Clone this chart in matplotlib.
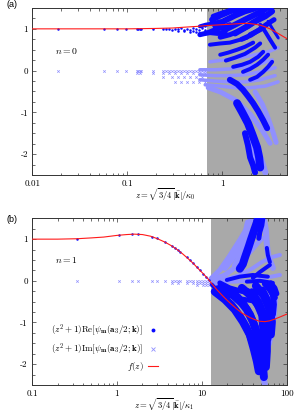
import matplotlib
matplotlib.use("Agg")
import matplotlib.pyplot as plt
from matplotlib.lines import Line2D
from matplotlib.ticker import FixedLocator, FixedFormatter, NullFormatter, MultipleLocator

plt.rcParams['mathtext.fontset'] = 'cm'
plt.rcParams['font.family'] = ['cmr10', 'DejaVu Serif']
plt.rcParams['axes.unicode_minus'] = False

# ---------------- Panel (a): n = 0 ----------------
a_f_z = [0.01, 0.03, 0.1, 0.2, 0.3, 0.4, 0.55, 0.7, 0.85, 1.0, 1.2, 1.4, 1.66, 1.9, 2.2, 2.5, 2.8, 3.17, 3.6, 4.06, 4.5, 4.83]
a_f_y = [1.00, 1.00, 1.00, 1.01, 1.02, 1.04, 1.06, 1.08, 1.09, 1.10, 1.11, 1.12, 1.13, 1.13, 1.11, 1.09, 1.05, 1.00, 0.93, 0.86, 0.80, 0.76]

a_re_pt_z = [0.0188, 0.0573, 0.0785, 0.096, 0.125, 0.130, 0.135, 0.140, 0.187, 0.238, 0.255, 0.275,
             0.296, 0.318, 0.342, 0.368, 0.395, 0.425, 0.457, 0.492, 0.529, 0.568, 0.612, 0.658,
             0.342, 0.395, 0.457, 0.492, 0.529, 0.568, 0.612, 0.658, 0.612, 0.658]
a_re_pt_y = [1.00, 1.00, 1.00, 1.00, 1.00, 1.00, 1.00, 1.00, 1.00, 1.00, 0.99, 1.00,
             0.98, 1.00, 0.99, 1.01, 0.98, 1.00, 0.97, 1.01, 0.99, 0.98, 1.02, 0.97,
             0.95, 0.94, 0.93, 0.95, 0.92, 0.90, 0.88, 0.87, 1.06, 1.08]

a_im_rows_z = [[0.0188, 0.0573, 0.0785, 0.096, 0.125, 0.130, 0.135, 0.140, 0.187, 0.238, 0.255, 0.275,
                0.296, 0.318, 0.342, 0.368, 0.395, 0.425, 0.457, 0.492, 0.529, 0.568, 0.612, 0.658],
               [0.125, 0.135, 0.187, 0.238, 0.275, 0.318, 0.368, 0.425, 0.492, 0.568, 0.658],
               [0.238, 0.296, 0.342, 0.395, 0.457, 0.529, 0.612],
               [0.318, 0.368, 0.425, 0.492, 0.568, 0.658]]
a_im_rows_y = [0.0, -0.05, -0.15, -0.27]

# dense Re bands in the shaded region (z values, y values)
a_re_band_z = [[0.58, 0.66, 0.74, 0.90, 1.07], [0.58, 0.67, 0.80, 0.95], [0.71, 0.84, 0.99, 1.20],
               [0.78, 0.95, 1.20, 1.54], [0.84, 1.07, 1.36, 1.73, 2.21], [1.07, 1.36, 1.73, 2.21, 2.83],
               [1.36, 1.73, 2.21, 2.83, 3.34], [1.96, 2.50, 3.03, 3.50], [1.5, 2.2, 2.8, 3.3],
               [0.74, 0.95, 1.20, 1.54, 1.82], [0.95, 1.15, 1.43, 1.73, 2.11], [1.09, 1.36, 1.73, 2.21, 2.50],
               [1.30, 1.61, 1.96, 2.38, 2.69], [1.65, 1.96, 2.32, 2.69, 3.03], [1.96, 2.32, 2.69, 3.03, 3.34],
               [2.50, 2.83, 3.18, 3.59], [3.03, 3.42, 3.86],
               [1.20, 1.43, 1.65, 1.86, 2.11, 2.38, 2.69, 2.96], [1.43, 1.61, 1.86, 2.06, 2.32, 2.44, 2.50],
               [1.73, 1.86, 1.96, 2.11, 2.21],
               [0.80, 1.00, 1.25, 1.55, 1.90], [0.95, 1.20, 1.50, 1.85, 2.30, 2.70], [1.60, 2.00, 2.45, 2.90]]
a_re_band_y = [[0.86, 0.89, 0.91, 0.89, 0.93], [1.06, 1.10, 1.13, 1.18], [0.91, 0.98, 1.03, 1.10],
               [1.22, 1.32, 1.42, 1.49], [1.08, 1.20, 1.32, 1.42, 1.49], [0.98, 1.10, 1.22, 1.34, 1.47],
               [0.89, 1.03, 1.18, 1.30, 1.42], [0.86, 0.98, 1.13, 1.22], [1.49, 1.50, 1.50, 1.48],
               [0.62, 0.65, 0.67, 0.74, 0.79], [0.38, 0.43, 0.50, 0.57, 0.67], [0.24, 0.31, 0.40, 0.55, 0.65],
               [0.09, 0.14, 0.21, 0.33, 0.45], [-0.03, 0.04, 0.14, 0.26, 0.38], [-0.22, -0.15, -0.03, 0.09, 0.21],
               [1.10, 0.93, 0.74, 0.55], [1.18, 0.98, 0.79],
               [-0.22, -0.32, -0.46, -0.61, -0.78, -0.97, -1.19, -1.38], [-0.78, -0.99, -1.26, -1.52, -1.84, -2.08, -2.32],
               [-1.50, -1.79, -2.08, -2.27, -2.44],
               [1.30, 1.38, 1.45, 1.50, 1.50], [0.80, 0.86, 0.95, 1.05, 1.20, 1.35], [0.75, 0.85, 0.98, 1.10]]

a_im_band_z = [[0.71, 0.95, 1.36, 1.96, 2.63, 3.18], [1.54, 1.77, 2.06, 2.32, 2.63, 2.83],
               [2.21, 2.63, 3.03, 3.42, 3.68], [1.96, 2.16, 2.38],
               [0.58, 0.84, 1.20, 1.73, 2.50, 3.34], [0.58, 0.84, 1.20, 1.73, 2.50, 3.59],
               [0.58, 0.84, 1.20, 1.73, 2.50, 3.59], [0.66, 0.95, 1.36, 1.96, 2.83, 3.86],
               [0.74, 1.07, 1.54, 2.21, 3.03, 3.86]]
a_im_band_y = [[-0.41, -0.51, -0.70, -1.04, -1.43, -1.74], [-0.82, -1.14, -1.47, -1.86, -2.20, -2.44],
               [-0.51, -0.80, -1.14, -1.48, -1.72], [-1.67, -2.03, -2.34],
               [0.02, 0.02, 0.04, 0.09, 0.16, 0.26], [-0.10, -0.12, -0.12, -0.10, -0.03, 0.07],
               [-0.22, -0.25, -0.27, -0.27, -0.22, -0.12], [-0.34, -0.37, -0.41, -0.41, -0.37, -0.27],
               [0.21, 0.26, 0.31, 0.38, 0.45, 0.55]]

# ---------------- Panel (b): n = 1 ----------------
b_f_z = [0.1, 0.2, 0.34, 0.5, 0.7, 1.0, 1.3, 1.6, 2.0, 2.5, 3.0, 3.67, 4.4, 5.2, 6.0, 7.0, 8.0, 9.0, 10.4,
         11.9, 13.1, 15.0, 17.2, 19.7, 22.5, 26, 30, 36.7, 42, 48, 55, 63, 72, 85, 100]
b_f_y = [1.00, 1.00, 1.01, 1.03, 1.05, 1.09, 1.11, 1.12, 1.11, 1.07, 1.01, 0.93, 0.84, 0.74, 0.64, 0.52, 0.41,
         0.30, 0.17, 0.04, -0.07, -0.21, -0.34, -0.46, -0.57, -0.68, -0.78, -0.88, -0.93, -0.97, -0.98,
         -0.96, -0.92, -0.86, -0.80]

b_re_pt_z = [0.341, 1.064, 1.49, 1.78, 2.56, 2.93, 3.67, 4.40, 4.81, 5.22, 5.51, 6.61, 7.22, 7.84, 8.66, 9.47, 10.3, 11.1, 12.0]
b_re_pt_y = [1.01, 1.09, 1.12, 1.12, 1.06, 1.02, 0.93, 0.84, 0.79, 0.74, 0.70, 0.57, 0.50, 0.43, 0.33, 0.25, 0.17, 0.10, 0.03]

b_im_rows_z = [[0.341, 1.064, 1.49, 1.78, 2.56, 2.93, 3.67, 4.40, 4.81, 5.22, 5.51, 6.61, 7.22, 7.84, 8.66, 9.47, 10.3, 11.1, 12.0],
               [4.40, 5.22, 6.61, 7.84, 8.66, 9.47, 10.3, 11.1, 12.0],
               [8.66, 10.3, 11.1, 12.0]]
b_im_rows_y = [-0.01, -0.06, -0.10]

b_re_band_z = [[45.7, 44.5, 42.1, 39.9, 37.8, 35.8, 33.9, 32.1, 30.4, 28.0], [52.3, 50.9, 48.2, 46.9],
               [58.3, 59.9, 63.3], [19.7, 28.0, 39.9, 59.9], [39.9, 48.2, 63.3], [33.9, 48.2, 68.7],
               [16.3, 21.3, 30.4, 48.2], [15.0, 19.7, 28.0, 39.9], [55.2, 63.3, 72.5], [65.0, 72.5, 76.6],
               [13.1, 15.0, 17.2, 19.7],
               [14.2, 18.7, 24.4, 30.4, 36.7, 41.0, 44.5, 46.9], [20.2, 26.4, 33.9, 39.9, 45.7, 49.6, 52.3, 53.8],
               [29.6, 38.8, 48.2, 55.2, 58.3, 58.3, 56.8], [43.3, 53.8, 61.4, 66.8, 65.0], [59.9, 68.7, 70.6, 68.7],
               [17.2, 22.5, 28.0, 33.9, 38.8], [34.8, 43.3, 50.9, 52.3, 50.9], [52.3, 59.9, 63.3],
               [24.4, 30.4, 37.8, 43.3, 47.5, 50.9], [38.8, 47.5, 54.5, 59.0, 61.0], [16.3, 20.2, 25.0, 30.4]]
b_re_band_y = [[1.50, 1.40, 1.26, 1.12, 0.98, 0.83, 0.69, 0.55, 0.40, 0.29], [1.50, 1.33, 1.17, 1.02],
               [0.79, 0.62, 0.45], [0.02, 0.10, 0.14, 0.10], [0.07, 0.21, 0.38], [-0.02, 0.0, -0.05],
               [-0.05, -0.17, -0.26, -0.29], [-0.17, -0.33, -0.43, -0.48], [-0.07, -0.21, -0.40], [-0.05, -0.17, -0.31],
               [-0.09, -0.22, -0.35, -0.47],
               [-0.26, -0.45, -0.69, -0.98, -1.29, -1.64, -1.93, -2.17], [-0.21, -0.40, -0.69, -0.98, -1.33, -1.69, -2.02, -2.31],
               [-0.17, -0.38, -0.64, -0.98, -1.36, -1.69, -2.07], [-0.12, -0.36, -0.64, -0.98, -1.29], [-0.10, -0.33, -0.57, -0.81],
               [-0.36, -0.57, -0.83, -1.12, -1.45], [-0.26, -0.50, -0.83, -1.17, -1.52], [-0.21, -0.45, -0.74],
               [-0.30, -0.50, -0.80, -1.10, -1.45, -1.85], [-0.25, -0.50, -0.80, -1.10, -1.40], [-0.12, -0.28, -0.45, -0.60]]

b_im_band_z = [[12.8, 16.3, 21.3, 28.0, 33.9, 38.8], [14.2, 18.7, 24.4, 32.1, 42.1, 50.9],
               [14.2, 20.2, 28.0, 38.8, 50.9, 66.8, 83.1], [16.3, 24.4, 36.7, 55.2, 83.1],
               [53.8, 56.8, 58.3, 61.4, 68.7], [34.8, 32.9, 30.4, 27.3, 24.4],
               [13.6, 18.7, 28.0, 42.1, 63.3], [50.9, 53.8, 55.2], [74.5, 72.5, 68.7, 63.3],
               [18.7, 24.4, 30.4, 34.8]]
b_im_band_y = [[0.05, 0.26, 0.60, 0.98, 1.26, 1.50], [0.05, 0.14, 0.31, 0.55, 0.83, 1.02],
               [0.0, 0.05, 0.14, 0.29, 0.45, 0.57, 0.62], [-0.02, -0.02, 0.0, 0.07, 0.14],
               [1.50, 1.21, 0.86, 0.55, 0.31], [1.40, 1.17, 0.86, 0.55, 0.36],
               [-0.05, -0.14, -0.26, -0.33, -0.36], [-2.17, -2.36, -2.48], [-0.45, -0.81, -1.17, -1.52],
               [0.31, 0.62, 0.98, 1.26]]

a_shade = [0.686, 4.83]
b_shade = [12.8, 100]

# ---------------- styles ----------------
DARK = '#0a0aff'
LIGHT = '#9090ff'
RED = '#ff1a1a'
GRAY = '#a9a9a9'
FRAME = '#333333'
PX = 0.72  # points per pixel

a_re_w = [5, 4, 5, 6, 6, 6, 6, 5, 4, 4, 4, 4, 4, 4, 4, 4, 3, 6, 8, 6, 5, 5, 5]
a_im_w = [5, 6, 5, 4, 3.5, 3.5, 3.5, 3.5, 3.5]
b_re_w = [8, 5, 4, 4, 4, 4, 5, 5, 6, 5, 4, 8, 8, 8, 8, 6, 7, 7, 6, 6, 6, 5]
b_im_w = [5, 5, 4, 4, 6, 6, 4, 6, 4, 6]

fig = plt.figure(figsize=(2.99, 4.13), dpi=100)
axa = fig.add_axes([0.108, 0.5763, 0.853, 0.4044])
axb = fig.add_axes([0.107, 0.0678, 0.852, 0.4036])


def bands(ax, zs, ys, ws, color, zo):
    for zz, yy, w in zip(zs, ys, ws):
        ax.plot(zz, yy, '-', color=color, lw=w * PX, solid_capstyle='round',
                solid_joinstyle='round', zorder=zo)
        ax.plot(zz, yy, ls='none', marker='s', ms=w * PX * 0.6, mew=0, color=color, zorder=zo)


def setup(ax, xlim, xticks, xlabels, xlabel):
    ax.set_xscale('log')
    ax.set_xlim(*xlim)
    ax.set_ylim(-2.5, 1.5)
    ax.xaxis.set_major_locator(FixedLocator(xticks))
    ax.xaxis.set_major_formatter(FixedFormatter(xlabels))
    ax.xaxis.set_minor_formatter(NullFormatter())
    ax.yaxis.set_major_locator(FixedLocator([-2, -1, 0, 1]))
    ax.yaxis.set_major_formatter(FixedFormatter(['-2', '-1', '0', '1']))
    ax.yaxis.set_minor_locator(MultipleLocator(0.25))
    ax.tick_params(which='both', direction='in', top=True, right=True, colors=FRAME,
                   labelcolor='black', labelsize=6.5, width=0.5)
    ax.tick_params(which='major', length=3.2, pad=3)
    ax.tick_params(which='minor', length=1.8)
    for s in ax.spines.values():
        s.set_color(FRAME)
        s.set_linewidth(0.7)
    ax.set_xlabel(xlabel, fontsize=6.2, va='center')
    ax.xaxis.set_label_coords(0.52, -0.118)


for ax, shade, f_z, f_y, re_z, re_y, im_rz, im_ry, reb_z, reb_y, re_w, imb_z, imb_y, im_w in [
        (axa, a_shade, a_f_z, a_f_y, a_re_pt_z, a_re_pt_y, a_im_rows_z, a_im_rows_y,
         a_re_band_z, a_re_band_y, a_re_w, a_im_band_z, a_im_band_y, a_im_w),
        (axb, b_shade, b_f_z, b_f_y, b_re_pt_z, b_re_pt_y, b_im_rows_z, b_im_rows_y,
         b_re_band_z, b_re_band_y, b_re_w, b_im_band_z, b_im_band_y, b_im_w)]:
    ax.axvspan(shade[0], shade[1], color=GRAY, lw=0, zorder=0)
    bands(ax, imb_z, imb_y, im_w, LIGHT, 2)
    bands(ax, reb_z, reb_y, re_w, DARK, 3)
    for rz, ry in zip(im_rz, im_ry):
        ax.plot(rz, [ry] * len(rz), ls='none', marker='x', ms=1.8, mew=0.5, color=LIGHT, zorder=2)
    ax.plot(re_z, re_y, ls='none', marker='o', ms=1.8, mew=0, color=DARK, zorder=4)
    ax.plot(f_z, f_y, '-', color=RED, lw=0.8, zorder=5)

setup(axa, (0.01, 4.83), [0.01, 0.1, 1], ['0.01', '0.1', '1'],
      r'$z=\sqrt{3/4}|\bar{\mathbf{k}}|/\kappa_0$')
setup(axb, (0.1, 100), [0.1, 1, 10, 100], ['0.1', '1', '10', '100'],
      r'$z=\sqrt{3/4}|\bar{\mathbf{k}}|/\kappa_1$')

axa.text(0.09, 0.745, r'$n=0$', transform=axa.transAxes, fontsize=7, va='center', ha='left')
axb.text(0.09, 0.75, r'$n=1$', transform=axb.transAxes, fontsize=7, va='center', ha='left')

handles = [Line2D([], [], ls='none', marker='o', ms=2.8, mew=0, color=DARK),
           Line2D([], [], ls='none', marker='x', ms=2.6, mew=0.6, color=LIGHT),
           Line2D([], [], color=RED, lw=0.8)]
labels = [r'$(z^2+1)\mathrm{Re}[\psi_{\mathbf{m}}(\mathbf{a}_3/2;\mathbf{k})]$',
          r'$(z^2+1)\mathrm{Im}[\psi_{\mathbf{m}}(\mathbf{a}_3/2;\mathbf{k})]$',
          r'$f(z)$']
axb.legend(handles, labels, loc='lower right', bbox_to_anchor=(0.494, 0.07), markerfirst=False,
           frameon=False, handlelength=1.1, handletextpad=0.5, labelspacing=0.35, fontsize=6.5,
           borderpad=0, borderaxespad=0)

fig.text(0.023, 0.988, '(a)', family='Liberation Sans', fontsize=6.5, ha='left', va='center')
fig.text(0.023, 0.4685, '(b)', family='Liberation Sans', fontsize=6.5, ha='left', va='center')

fig.savefig('out.png', dpi=100)
